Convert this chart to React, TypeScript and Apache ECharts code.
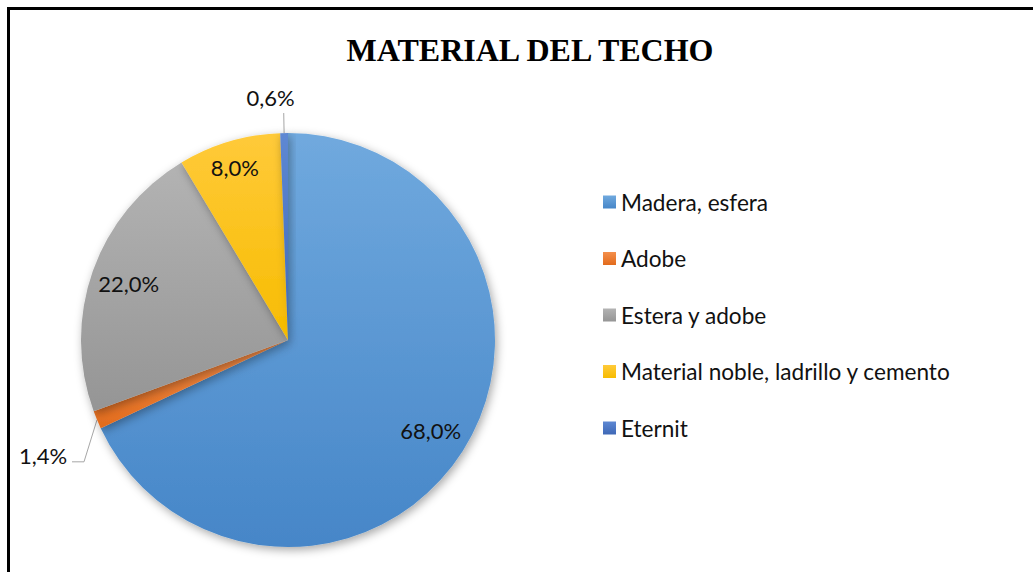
import React, { useEffect, useRef } from "react";
import * as echarts from "echarts";

const TITLE = "MATERIAL DEL TECHO";
const categories = [
  "Madera, esfera",
  "Adobe",
  "Estera y adobe",
  "Material noble, ladrillo y cemento",
  "Eternit",
];
const values = [68.0, 1.4, 22.0, 8.0, 0.6];
const labelTexts = ["68,0%", "1,4%", "22,0%", "8,0%", "0,6%"];
const gradientColors: [string, string][] = [
  ["#70A9DE", "#4686C8"],
  ["#F48F4C", "#E26B1C"],
  ["#B3B3B3", "#959595"],
  ["#FFCA3A", "#F7BC00"],
  ["#5E88D3", "#3E68B6"],
];
const outsideIdx = [1, 4];

const FONT = "Lato, 'Open Sans', sans-serif";

function grad(c: [string, string]) {
  return new echarts.graphic.LinearGradient(0, 0, 0, 1, [
    { offset: 0, color: c[0] },
    { offset: 1, color: c[1] },
  ]);
}

export default function App() {
  const ref = useRef<HTMLDivElement>(null);
  useEffect(() => {
    if (!ref.current) return;
    const chart = echarts.init(ref.current, null, { renderer: "svg" });
    const mainData = categories.map((name, i) => {
      const isOut = outsideIdx.includes(i);
      return {
        name,
        value: values[i],
        itemStyle: { color: grad(gradientColors[i]) },
        label: { show: isOut, formatter: labelTexts[i] },
        labelLine:
          i === 4
            ? { show: true, length: 20, length2: 0 }
            : { show: isOut, length: 15, length2: 10 },
      };
    });
    const ghostData = categories.map((name, i) => ({
      name,
      value: values[i],
      label: { show: !outsideIdx.includes(i), formatter: labelTexts[i] },
    }));
    chart.setOption({
      animation: false,
      backgroundColor: "#ffffff",
      title: {
        text: TITLE,
        left: 525,
        top: 29,
        textAlign: "center",
        textStyle: {
          fontFamily: "'Liberation Serif', 'Times New Roman', serif",
          fontWeight: "bold",
          fontSize: 32,
          color: "#000",
        },
      },
      legend: {
        orient: "vertical",
        left: 598,
        top: 185,
        itemWidth: 13,
        itemHeight: 13,
        itemGap: 32.5,
        icon: "rect",
        data: categories,
        selectedMode: false,
        textStyle: {
          fontFamily: FONT,
          fontSize: 22.6,
          lineHeight: 24,
          color: "#111",
        },
      },
      graphic: [
        {
          type: "rect",
          shape: { x: 8.5, y: 8.5, width: 2000, height: 2000 },
          style: { fill: "none", stroke: "#000", lineWidth: 3 },
          silent: true,
        },
      ],
      series: [
        {
          type: "pie",
          center: [288, 340],
          radius: [0, 207],
          startAngle: 90,
          clockwise: true,
          avoidLabelOverlap: false,
          itemStyle: {
            borderWidth: 0,
            shadowBlur: 10,
            shadowOffsetX: 2,
            shadowOffsetY: 3,
            shadowColor: "rgba(0,0,0,0.35)",
          },
          label: {
            position: "outside",
            fontFamily: FONT,
            fontSize: 22,
            color: "#111",
          },
          labelLine: {
            lineStyle: { color: "#A6A6A6", width: 1 },
          },
          labelLayout: (params: any) => {
            const pts = params.labelLinePoints;
            if (!pts) return {};
            const p0 = pts[0];
            if (params.dataIndex === 4) {
              return { dx: 16, dy: -16, labelLinePoints: pts };
            }
            if (params.dataIndex === 1) {
              return {
                dx: -1,
                dy: 30,
                labelLinePoints: [
                  p0,
                  [p0[0] - 13, p0[1] + 42],
                  [p0[0] - 25, p0[1] + 42],
                ],
              };
            }
            return {};
          },
          emphasis: { disabled: true },
          data: mainData,
        },
        {
          type: "pie",
          center: [288, 340],
          radius: [0, 332],
          startAngle: 90,
          clockwise: true,
          silent: true,
          avoidLabelOverlap: false,
          itemStyle: { color: "rgba(0,0,0,0)" },
          label: {
            position: "inside",
            fontFamily: FONT,
            fontSize: 22,
            color: "#111",
          },
          labelLine: { show: false },
          labelLayout: (params: any) => {
            if (params.dataIndex === 3) return { dx: -5, dy: -11 };
            return {};
          },
          emphasis: { disabled: true },
          data: ghostData,
        },
      ],
    });
    return () => chart.dispose();
  }, []);
  return (
    <div
      ref={ref}
      style={{ position: "fixed", left: 0, top: 0, width: 1033, height: 572 }}
    />
  );
}
